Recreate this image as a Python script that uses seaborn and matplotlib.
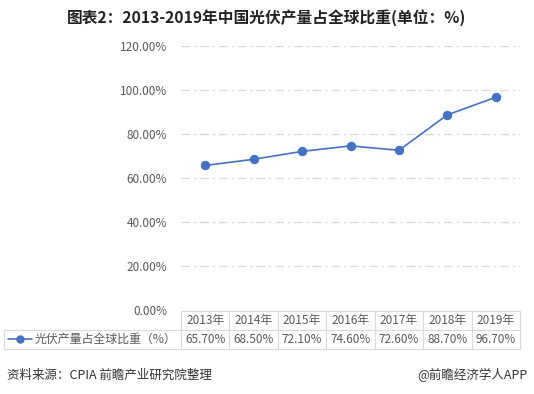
import pandas as pd
import matplotlib.pyplot as plt
import seaborn as sns
from matplotlib.lines import Line2D

# data
years = ["2013年", "2014年", "2015年", "2016年", "2017年", "2018年", "2019年"]
share = [65.7, 68.5, 72.1, 74.6, 72.6, 88.7, 96.7]
series_name = "光伏产量占全球比重（%）"
title = "图表2：2013-2019年中国光伏产量占全球比重(单位：%)"
source = "资料来源：CPIA 前瞻产业研究院整理"
brand = "@前瞻经济学人APP"

sns.set_theme(style="white")
plt.rcParams["font.family"] = ["Noto Sans CJK SC", "DejaVu Sans"]

df = pd.DataFrame({"year": years, "share": share})

line_color = "#4472C4"
text_color = "#595959"
grid_color = "#D9D9D9"

W, H = 534, 394
fig = plt.figure(figsize=(W / 100, H / 100), dpi=100)
ax = fig.add_axes([181 / W, 1 - 310 / H, (520 - 181) / W, (310 - 46) / H])

sns.lineplot(data=df, x="year", y="share", ax=ax, color=line_color,
             linewidth=1.2, marker="o", markersize=6,
             markeredgecolor=line_color, sort=False)

ax.set_xlim(-0.5, len(years) - 0.5)
ax.set_ylim(0, 120)
ax.set_yticks(range(0, 121, 20))
ax.set_yticklabels([f"{v:.2f}%" for v in range(0, 121, 20)],
                   fontsize=8.5, color=text_color)
ax.set_xticks([])
ax.set_xlabel("")
ax.set_ylabel("")
ax.tick_params(axis="y", length=0, pad=10)
for s in ax.spines.values():
    s.set_visible(False)
for v in range(20, 121, 20):
    ax.axhline(v, color=grid_color, linewidth=0.9, dashes=(7, 3, 2, 3), zorder=0)

# data table under the chart
left, right = 4, 520
top, mid, bottom = 311, 329, 349
col0 = 181 - left
cw = (right - 181) / len(years)
tab = ax.table(cellText=[[""] + years, [""] + [f"{v:.2f}%" for v in share]],
               colWidths=[col0] + [cw] * len(years),
               bbox=[(left - 181) / (520 - 181), -(bottom - 310) / (310 - 46),
                     (right - left) / (520 - 181), (bottom - top) / (310 - 46)],
               cellLoc="center")
tab.auto_set_font_size(False)
for (r, c), cell in tab.get_celld().items():
    cell.set_edgecolor(grid_color)
    cell.set_linewidth(0.8)
    cell.get_text().set_color(text_color)
    cell.get_text().set_fontsize(8.5)
    if r == 0 and c == 0:
        cell.visible_edges = ""

# legend key in the table
ymk = 1 - 339 / H
fig.add_artist(Line2D([8 / W, 32 / W], [ymk, ymk], transform=fig.transFigure,
                      color=line_color, linewidth=1.2))
fig.add_artist(Line2D([20 / W], [ymk], transform=fig.transFigure, marker="o",
                      markersize=5, color=line_color))
fig.text(35 / W, ymk, series_name, ha="left", va="center", fontsize=8.6,
         color=text_color)

fig.text(0.5, 1 - 18 / H, title, ha="center", va="center", fontsize=11.3,
         fontweight="bold", color="#222222")
fig.text(7 / W, 1 - 375 / H, source, ha="left", va="center", fontsize=9,
         color="#333333")
fig.text(527 / W, 1 - 375 / H, brand, ha="right", va="center", fontsize=9,
         color="#333333")

fig.savefig("out.png", dpi=100)
